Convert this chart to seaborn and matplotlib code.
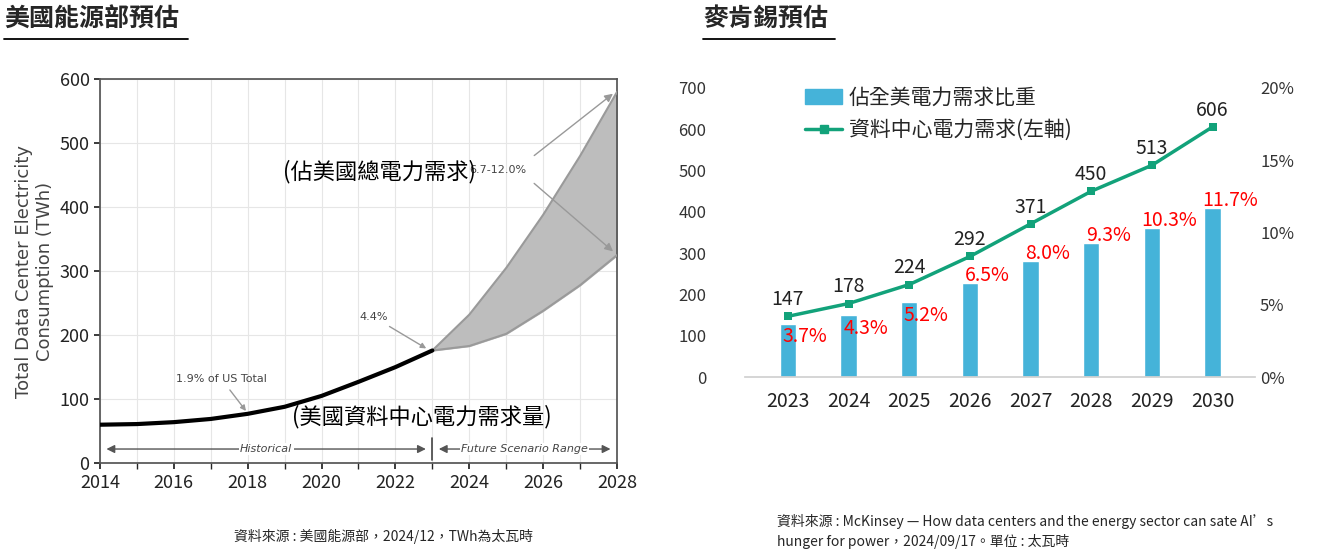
import matplotlib
matplotlib.use("Agg")
import matplotlib.pyplot as plt
import seaborn as sns
import pandas as pd
from matplotlib.patches import Patch
from matplotlib.lines import Line2D

sns.set_theme(style="white")
plt.rcParams['font.family'] = ['Noto Sans CJK TC', 'DejaVu Sans']

# Left chart data (DOE)
hist_years = [2014, 2015, 2016, 2017, 2018, 2019, 2020, 2021, 2022, 2023]
hist_twh = [60, 61, 64, 69, 77, 88, 105, 127, 150, 176]
fut_years = [2023, 2024, 2025, 2026, 2027, 2028]
fut_low = [176, 183, 202, 238, 278, 325]
fut_high = [176, 232, 305, 388, 480, 580]

# Right chart data (McKinsey)
mck_years = ["2023", "2024", "2025", "2026", "2027", "2028", "2029", "2030"]
mck_twh = [147, 178, 224, 292, 371, 450, 513, 606]
mck_share = [3.7, 4.3, 5.2, 6.5, 8.0, 9.3, 10.3, 11.7]

fig = plt.figure(figsize=(13.24, 5.5), dpi=100)

# ---------- Left ----------
ax = fig.add_axes([0.0755, 0.158, 0.3905, 0.698])
ax.fill_between(fut_years, fut_low, fut_high, color="#bdbdbd", zorder=2)
ax.plot(fut_years, fut_low, color="#9a9a9a", lw=1.5, zorder=3)
ax.plot(fut_years, fut_high, color="#9a9a9a", lw=1.5, zorder=3)
sns.lineplot(x=hist_years, y=hist_twh, ax=ax, color="black", lw=3, zorder=4)
ax.set_xlim(2014, 2028)
ax.set_ylim(0, 600)
ax.set_xticks(range(2014, 2029, 2))
ax.set_xticks(range(2015, 2028, 2), minor=True)
ax.set_yticks(range(0, 601, 100))
ax.grid(True, which="both", color="#e6e6e6", lw=0.8)
ax.tick_params(axis="both", labelsize=13, colors="#222222", length=4, bottom=True, left=True)
ax.tick_params(axis="x", which="minor", bottom=True, length=4)
for s in ax.spines.values():
    s.set_color("#555555")
ax.set_ylabel("Total Data Center Electricity\nConsumption (TWh)", fontsize=13, color="#444444", family="DejaVu Sans")
arr = dict(arrowstyle="-|>", color="#999999", lw=1)
ax.annotate("1.9% of US Total", xy=(2018, 78), xytext=(2017.3, 126), fontsize=8,
            color="#444444", ha="center", arrowprops=arr, family="DejaVu Sans")
ax.annotate("4.4%", xy=(2022.9, 177), xytext=(2021.4, 224), fontsize=8,
            color="#444444", ha="center", arrowprops=arr, family="DejaVu Sans")
ax.annotate("", xy=(2027.95, 580), xytext=(2025.7, 478), arrowprops=arr)
ax.annotate("", xy=(2027.95, 328), xytext=(2025.7, 440), arrowprops=arr)
ax.text(2024.0, 458, "6.7-12.0%", fontsize=8, color="#444444", ha="left", va="center", family="DejaVu Sans")
ax.text(2018.95, 455, "(佔美國總電力需求)", fontsize=16, ha="left", va="center", color="black")
ax.text(2019.2, 73, "(美國資料中心電力需求量)", fontsize=16, ha="left", va="center", color="black")
ax.annotate("", xy=(2014.1, 22), xytext=(2022.9, 22),
            arrowprops=dict(arrowstyle="<|-|>", color="#555555", lw=1))
ax.annotate("", xy=(2023.1, 22), xytext=(2027.9, 22),
            arrowprops=dict(arrowstyle="<|-|>", color="#555555", lw=1))
ax.text(2018.5, 22, "Historical", fontsize=8, style="italic", color="#444444", ha="center", va="center",
        bbox=dict(fc="white", ec="none", pad=1), family="DejaVu Sans")
ax.text(2025.5, 22, "Future Scenario Range", fontsize=8, style="italic", color="#444444", ha="center", va="center",
        bbox=dict(fc="white", ec="none", pad=1), family="DejaVu Sans")
ax.plot([2023, 2023], [5, 40], color="#444444", lw=1.2)

# ---------- Right ----------
axr = fig.add_axes([0.563, 0.3145, 0.385, 0.5255])
ax2 = axr.twinx()
df = pd.DataFrame({"year": mck_years, "twh": mck_twh, "share": mck_share})
sns.barplot(data=df, x="year", y="share", ax=ax2, color="#45b3d9", width=0.27, saturation=1, zorder=1)
ax2.set_ylim(0, 20)
ax2.set_yticks([0, 5, 10, 15, 20])
ax2.set_yticklabels([f"{v}%" for v in [0, 5, 10, 15, 20]])
axr.set_zorder(ax2.get_zorder() + 1)
axr.patch.set_visible(False)
sns.lineplot(data=df, x="year", y="twh", ax=axr, color="#12a27a", lw=2.5, marker="s",
             markersize=6, markeredgewidth=0, sort=False)
axr.set_ylim(0, 700)
axr.set_xlim(-0.7, 7.7)
axr.set_yticks(range(0, 701, 100))
for a in (axr, ax2):
    a.set_xlabel("")
    a.set_ylabel("")
    for s in a.spines.values():
        s.set_visible(False)
    a.tick_params(length=0, labelsize=12, colors="#333333")
axr.spines["bottom"].set_visible(True)
axr.spines["bottom"].set_color("#d0d0d0")
axr.tick_params(axis="x", labelsize=14, colors="#222222", pad=10)
axr.tick_params(axis="y", pad=28)
for i, (v, p) in enumerate(zip(mck_twh, mck_share)):
    axr.text(i, v + 15, str(v), ha="center", va="bottom", fontsize=14, color="#222222")
    ax2.text(i + 0.28, p - 0.2, f"{p}%", ha="center", va="top" if i < 3 else "bottom",
             fontsize=14, color="red")
handles = [Patch(color="#45b3d9"),
           Line2D([0], [0], color="#12a27a", lw=2.5, marker="s", markersize=6)]
axr.legend(handles, ["佔全美電力需求比重", "資料中心電力需求(左軸)"], loc="upper left",
           bbox_to_anchor=(0.08, 1.07), frameon=False, fontsize=15, handlelength=1.8,
           handletextpad=0.3, labelspacing=0.5)

# titles and notes
fig.text(0.003, 0.965, "美國能源部預估", fontsize=18, fontweight="bold", va="center")
fig.add_artist(Line2D([0.003, 0.142], [0.93, 0.93], color="black", lw=1.3))
fig.text(0.531, 0.965, "麥肯錫預估", fontsize=18, fontweight="bold", va="center")
fig.add_artist(Line2D([0.531, 0.631], [0.93, 0.93], color="black", lw=1.3))
fig.text(0.177, 0.025, "資料來源 : 美國能源部，2024/12，TWh為太瓦時", fontsize=10, va="center")
fig.text(0.587, 0.052, "資料來源 : McKinsey — How data centers and the energy sector can sate AI’s", fontsize=10, va="center")
fig.text(0.587, 0.015, "hunger for power，2024/09/17。單位 : 太瓦時", fontsize=10, va="center")

fig.savefig("out.png", dpi=100)
